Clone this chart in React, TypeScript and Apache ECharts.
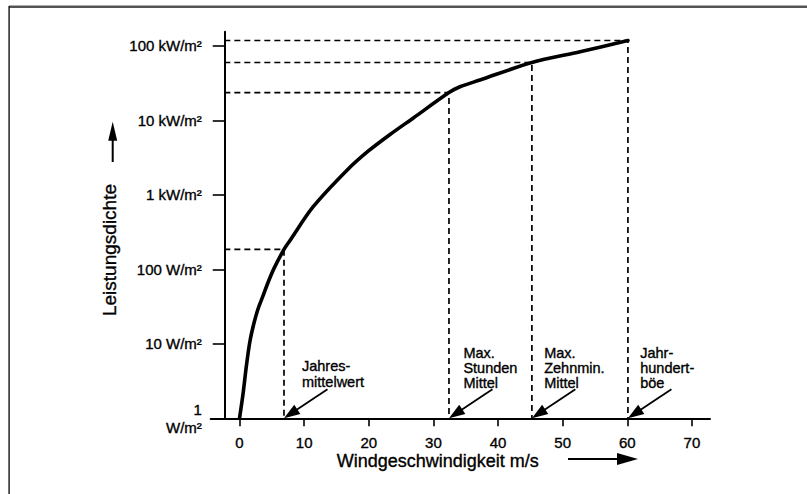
import React, { useEffect, useRef } from "react";
import * as echarts from "echarts";

// ---- data ----
const WIND = [0, 0.54, 1.08, 1.62, 2.24, 2.86, 3.63, 4.41, 5.34, 6.88, 7.81, 11.37, 16.63, 19.9, 23.29, 26.85, 32.41, 34.11, 37.2, 45.24, 52.7, 60.1];
const POWER = [1, 2.12, 5.2, 10.9, 19, 29.3, 43.9, 66.6, 103, 185, 244, 687, 2140, 3850, 6460, 10700, 23600, 28290, 34800, 59800, 83450, 118000];

const REF_WIND = [6.88, 32.41, 45.24, 60.1];
const REF_POWER = [185, 23600, 59800, 118000];
const REF_LABELS = [
  ["Jahres-", "mittelwert"],
  ["Max.", "Stunden", "Mittel"],
  ["Max.", "Zehnmin.", "Mittel"],
  ["Jahr-", "hundert-", "böe"],
];

const X_TICKS = [0, 10, 20, 30, 40, 50, 60, 70];
const Y_TICKS = [1, 10, 100, 1000, 10000, 100000];
const Y_TICK_LABELS = ["1\nW/m²", "10 W/m²", "100 W/m²", "1 kW/m²", "10 kW/m²", "100 kW/m²"];

const X_TITLE = "Windgeschwindigkeit m/s";
const Y_TITLE = "Leistungsdichte";

// ---- layout ----
const FONT = "'Liberation Sans', Arial, Helvetica, sans-serif";
const W = 807;
const H = 494;
const XMIN = -4.46;
const XMAX = 72.8;
const YMIN = 1;
const YMAX = 155000;
const YAXIS_AT = -2.35;
const G_LEFT = 210.7;
const G_RIGHT = 97;
const G_TOP = 31.7;
const G_BOTTOM = 75.7;
const LABEL_DX = [18, 14.4, 12.3, 12.3];
const LABEL_FIRST_LINE_DY = [-52.3, -65.3, -65.3, -65.3];
const LABEL_LINE_STEP = [15.7, 15, 15, 15];
const TEXT_THICK = 0.35;

function arrow(x0: number, y0: number, x1: number, y1: number, headLen: number, halfW: number, width: number) {
  const dx = x1 - x0;
  const dy = y1 - y0;
  const L = Math.hypot(dx, dy);
  const ux = dx / L;
  const uy = dy / L;
  const nx = -uy;
  const ny = ux;
  const bx = x1 - ux * headLen;
  const by = y1 - uy * headLen;
  return [
    {
      type: "line",
      silent: true,
      shape: { x1: x0, y1: y0, x2: bx + ux * 3, y2: by + uy * 3 },
      style: { stroke: "#000", lineWidth: width },
    },
    {
      type: "polygon",
      silent: true,
      shape: {
        points: [
          [x1, y1],
          [bx + nx * halfW, by + ny * halfW],
          [bx - nx * halfW, by - ny * halfW],
        ],
      },
      style: { fill: "#000" },
    },
  ];
}

export default function App() {
  const ref = useRef<HTMLDivElement>(null);

  useEffect(() => {
    if (!ref.current) return;
    const chart = echarts.init(ref.current, null, { renderer: "svg" });
    const pxPerUnit = (W - G_LEFT - G_RIGHT) / (XMAX - XMIN);
    const yOffset = -(YAXIS_AT - XMIN) * pxPerUnit;

    const curve = {
      type: "line",
      data: WIND.map((v, i) => [v, POWER[i]]),
      symbol: "none",
      showSymbol: false,
      smooth: 0.3,
      clip: false,
      silent: true,
      z: 5,
      lineStyle: { color: "#000", width: 3.6, cap: "round", join: "round" },
    };

    const refs = REF_WIND.map((v, i) => ({
      type: "line",
      data: [
        [YAXIS_AT, REF_POWER[i]],
        [v, REF_POWER[i]],
        [v, YMIN],
      ],
      symbol: "none",
      showSymbol: false,
      clip: false,
      silent: true,
      z: 3,
      lineStyle: { color: "#000", width: 1.7, type: [6, 4] },
    }));

    chart.setOption({
      animation: false,
      backgroundColor: "#ffffff",
      textStyle: { fontFamily: FONT },
      grid: { left: G_LEFT, right: G_RIGHT, top: G_TOP, bottom: G_BOTTOM },
      xAxis: {
        type: "value",
        min: XMIN,
        max: XMAX,
        axisLine: { show: true, onZero: false, lineStyle: { color: "#000", width: 2 } },
        axisTick: { show: true, customValues: X_TICKS, length: 8, lineStyle: { color: "#000", width: 1.6 } },
        axisLabel: {
          customValues: X_TICKS,
          color: "#000",
          fontSize: 15,
          margin: 17,
          fontFamily: FONT,
          textBorderColor: "#000",
          textBorderWidth: TEXT_THICK,
        },
        splitLine: { show: false },
      },
      yAxis: {
        type: "log",
        logBase: 10,
        min: YMIN,
        max: YMAX,
        position: "left",
        offset: yOffset,
        axisLine: { show: true, onZero: false, lineStyle: { color: "#000", width: 2 } },
        axisTick: { show: true, customValues: Y_TICKS, length: 11.6, lineStyle: { color: "#000", width: 1.6 } },
        axisLabel: {
          customValues: Y_TICKS,
          color: "#000",
          fontSize: 15,
          margin: 22.5,
          lineHeight: 18,
          align: "right",
          fontFamily: FONT,
          textBorderColor: "#000",
          textBorderWidth: TEXT_THICK,
          formatter: (v: number) => Y_TICK_LABELS[Math.round(Math.log10(v))] ?? "",
        },
        splitLine: { show: false },
      },
      series: [curve, ...refs],
    });

    const toPx = (p: number[]) => chart.convertToPixel({ gridIndex: 0 }, p) as number[];
    const graphics: any[] = [];

    // frame of the scanned page
    graphics.push({ type: "rect", silent: true, shape: { x: 9, y: 5.5, width: W - 9, height: 2.6 }, style: { fill: "#555" } });
    graphics.push({ type: "rect", silent: true, shape: { x: 8.4, y: 6, width: 1.4, height: H - 6 }, style: { fill: "#111" } });

    REF_WIND.forEach((v, i) => {
      const tip = toPx([v, YMIN]);
      graphics.push(...arrow(tip[0] + 43.5, tip[1] - 29, tip[0], tip[1], 16, 5.5, 1.8));
      REF_LABELS[i].forEach((line, j) => {
        graphics.push({
          type: "text",
          silent: true,
          style: {
            text: line,
            x: tip[0] + LABEL_DX[i],
            y: tip[1] + LABEL_FIRST_LINE_DY[i] + j * LABEL_LINE_STEP[i],
            fill: "#000",
            fontSize: 14.5,
            fontFamily: FONT,
            align: "left",
            verticalAlign: "middle",
            stroke: "#000",
            lineWidth: TEXT_THICK,
          },
        });
      });
    });

    // axis titles with arrows
    graphics.push({
      type: "text",
      silent: true,
      style: {
        text: X_TITLE,
        x: 336.7,
        y: 460.8,
        fill: "#000",
        fontSize: 18,
        fontFamily: FONT,
        align: "left",
        verticalAlign: "middle",
        stroke: "#000",
        lineWidth: TEXT_THICK,
      },
    });
    graphics.push(...arrow(568, 459, 638, 459, 21, 6, 2));

    graphics.push({
      type: "text",
      silent: true,
      x: 109,
      y: 250,
      rotation: Math.PI / 2,
      style: {
        text: Y_TITLE,
        x: 0,
        y: 0,
        fill: "#000",
        fontSize: 19,
        fontFamily: FONT,
        align: "center",
        verticalAlign: "middle",
        stroke: "#000",
        lineWidth: TEXT_THICK,
      },
    });
    graphics.push(...arrow(112.7, 162, 112.7, 121.7, 19, 4.5, 2));

    chart.setOption({ graphic: graphics });

    return () => chart.dispose();
  }, []);

  return (
    <div
      ref={ref}
      style={{ position: "fixed", left: 0, top: 0, width: W, height: H, background: "#fff" }}
    />
  );
}
